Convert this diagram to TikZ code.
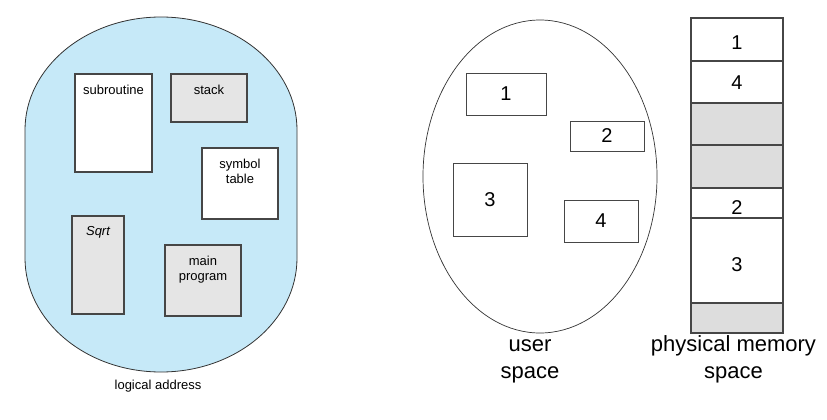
\documentclass[tikz,border=0pt]{standalone}
\usepackage{fontspec}
\setmainfont{Liberation Sans}
\usetikzlibrary{positioning}
\definecolor{logblue}{RGB}{198,233,248}
\definecolor{boxgray}{RGB}{229,229,229}
\definecolor{memgray}{RGB}{221,221,221}
\definecolor{edgegray}{RGB}{70,70,70}

\begin{document}
\begin{tikzpicture}[x=1pt, y=-1pt, every node/.style={inner sep=0pt},
    segbox/.style={draw=edgegray, line width=1.2pt, rectangle},
    userbox/.style={draw=edgegray, line width=0.9pt, rectangle, fill=white,
      font=\fontsize{20}{24}\selectfont},
    smalltxt/.style={font=\fontsize{13}{15}\selectfont, align=center},
    bigtxt/.style={font=\fontsize{22}{27}\selectfont, align=center},
    numtxt/.style={font=\fontsize{20}{24}\selectfont}]
  \useasboundingbox (0,0) rectangle (827,420);
  % logical address space
  \filldraw[fill=logblue, draw=black!80, line width=0.8pt]
    (25,130) arc[start angle=180, end angle=360, x radius=136, y radius=113]
    -- (297,258) arc[start angle=0, end angle=180, x radius=136, y radius=114]
    -- cycle;
  \node[segbox, fill=white, minimum width=77pt, minimum height=98pt] (subr) at (113.5,123) {};
  \node[smalltxt, below=11pt of subr.north] (subrlab) {subroutine};
  \node[segbox, fill=boxgray, minimum width=76pt, minimum height=48pt] (stk) at (209,98) {};
  \node[smalltxt, below=11pt of stk.north] (stklab) {stack};
  \node[segbox, fill=white, minimum width=76pt, minimum height=71pt] (sym) at (240,183.5) {};
  \node[smalltxt, below=11pt of sym.north] (symlab) {symbol\\table};
  \node[segbox, fill=boxgray, minimum width=52pt, minimum height=98pt] (sqrt) at (98,265) {};
  \node[smalltxt, below=11pt of sqrt.north] (sqrtlab) {\itshape Sqrt};
  \node[segbox, fill=boxgray, minimum width=76pt, minimum height=71pt] (mainp) at (203,280.5) {};
  \node[smalltxt, below=11pt of mainp.north] (mainlab) {main\\program};
  \node[smalltxt] (loglab) at (158,386) {logical address};
  % user space
  \draw[black!80, line width=0.7pt] (540,176.5) ellipse [x radius=117, y radius=156.5];
  \node[userbox, minimum width=80pt, minimum height=42pt] (u1) at (506,94) {1};
  \node[userbox, minimum width=74pt, minimum height=30pt] (u2) at (607,136) {2};
  \node[userbox, minimum width=74pt, minimum height=73pt] (u3) at (490,199.5) {3};
  \node[userbox, minimum width=74pt, minimum height=42pt] (u4) at (601,221) {4};
  \node[bigtxt, anchor=south] (userlab) at (530,383) {user\\space};
  % physical memory
  \foreach \t/\b/\f/\n/\ly [count=\k] in {18/61/white/1/42.5, 61/103/white/4/82.5,
      103/145/memgray//124, 145/188/memgray//166.5, 188/218/white/2/207.5,
      218/303/white/3/264.5, 303/333/memgray//318}
    {
      \draw[edgegray, line width=1.1pt, fill=\f] (691,\t) rectangle (783,\b);
      \node[numtxt] (mem\k) at (737,\ly) {\n};
    }
  \node[bigtxt, anchor=south] (physlab) at (733.5,383) {physical memory\\space};
\end{tikzpicture}
\end{document}
